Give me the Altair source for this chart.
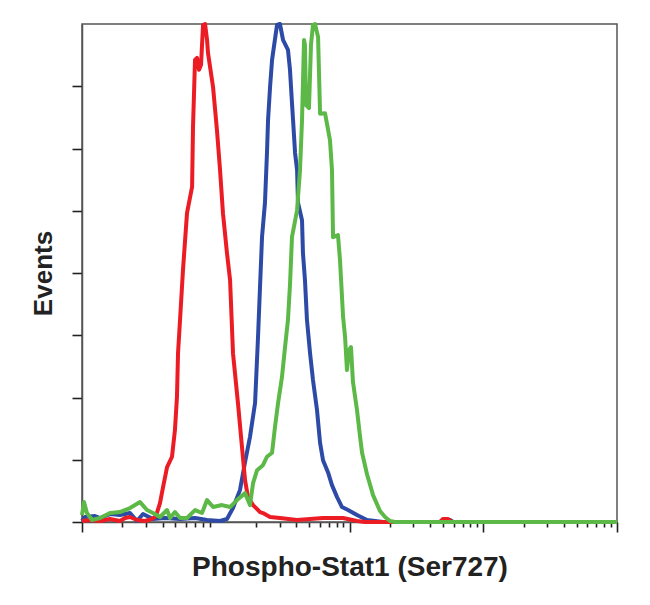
import altair as alt
import pandas as pd

# x values are log10 of fluorescence intensity (decades), y values are % of max events
RED_LOG = [0, 0.06, 0.135, 0.209, 0.284, 0.322, 0.359, 0.411, 0.471, 0.523, 0.553, 0.583, 0.606, 0.636, 0.673,
           0.695, 0.710, 0.718, 0.733, 0.755, 0.785, 0.823, 0.830, 0.845, 0.860, 0.875, 0.890, 0.905, 0.920, 0.935,
           0.942, 0.980, 1.009, 1.032, 1.054, 1.084, 1.107, 1.129, 1.166, 1.196, 1.219, 1.241, 1.279, 1.331, 1.353,
           1.406, 1.480, 1.608, 1.705, 1.802, 1.952, 2.056, 2.116, 2.677, 2.699, 2.737, 2.767, 4.0]
RED_PCT = [0.2, 0.4, 0.2, 0.6, 0.2, 0.8, 1.0, 0.4, 0.2, 0.6, 1.2, 3.8, 7.0, 11.0, 13.1,
           18.5, 25.1, 33.9, 40.6, 50.6, 62.0, 67.3, 79.3, 92.8, 93.2, 90.8, 91.8, 99.8, 100, 96.8,
           94.2, 87.3, 78.7, 70.7, 62.0, 54.0, 48.6, 33.9, 23.9, 15.1, 8.4, 5.0, 3.4, 2.0, 1.8,
           1.0, 0.8, 0.4, 0.6, 0.8, 0.8, 0.2, 0, 0, 0.6, 0.6, 0, 0]

BLUE_LOG = [0, 0.022, 0.097, 0.135, 0.209, 0.284, 0.359, 0.411, 0.456, 0.531, 0.621, 0.733, 0.845, 0.935, 1.032,
            1.084, 1.129, 1.181, 1.219, 1.256, 1.294, 1.316, 1.331, 1.346, 1.368, 1.383, 1.391, 1.406, 1.421, 1.458,
            1.480, 1.503, 1.540, 1.555, 1.570, 1.578, 1.593, 1.608, 1.615, 1.645, 1.652, 1.667, 1.682, 1.705, 1.727,
            1.757, 1.780, 1.802, 1.839, 1.869, 1.907, 1.944, 1.989, 2.056, 2.131, 2.251, 2.677, 2.707, 2.752, 2.774, 4.0]
BLUE_PCT = [0.2, 1.0, 1.2, 0.8, 1.6, 1.4, 1.8, 0.2, 1.6, 0.6, 0.8, 0.6, 0.8, 0.4, 0.2,
            0.6, 2.8, 6.4, 12.0, 17.1, 23.9, 37.1, 47.2, 57.2, 64.1, 74.1, 80.7, 87.3, 92.8, 99.8,
            100, 96.8, 94.8, 90.8, 84.1, 80.7, 74.1, 70.7, 64.1, 60.6, 54.0, 48.6, 40.6, 33.9, 28.5,
            22.5, 15.9, 12.4, 10.0, 7.4, 5.0, 3.0, 2.4, 1.4, 0.4, 0, 0, 0.6, 0.4, 0, 0]

GREEN_LOG = [0, 0.015, 0.037, 0.075, 0.135, 0.209, 0.284, 0.359, 0.434, 0.486, 0.531, 0.583, 0.636, 0.658, 0.695,
             0.733, 0.785, 0.845, 0.897, 0.935, 0.980, 1.047, 1.107, 1.159, 1.219, 1.256, 1.279, 1.309, 1.353, 1.383,
             1.421, 1.443, 1.466, 1.495, 1.518, 1.540, 1.555, 1.570, 1.608, 1.630, 1.645, 1.660, 1.667, 1.675, 1.697,
             1.712, 1.727, 1.742, 1.765, 1.780, 1.817, 1.854, 1.869, 1.877, 1.914, 1.929, 1.952, 1.967, 1.981, 1.996,
             2.011, 2.026, 2.056, 2.079, 2.094, 2.131, 2.176, 2.228, 2.266, 2.303, 2.340, 4.0]
GREEN_PCT = [1.4, 4.0, 1.8, 0.4, 0.8, 1.8, 2.0, 2.8, 4.0, 2.4, 1.8, 1.0, 2.4, 0.8, 2.0,
             0.8, 0.8, 2.4, 1.8, 4.4, 3.0, 3.4, 3.0, 4.4, 5.8, 3.4, 7.8, 10.4, 11.4, 13.1,
             13.9, 19.1, 23.9, 29.1, 35.1, 40.6, 47.6, 57.2, 62.6, 70.7, 80.7, 96.8, 95.8, 83.7, 83.1,
             95.8, 99.8, 100, 97.4, 82.0, 82.1, 76.7, 70.7, 57.2, 57.6, 52.6, 41.2, 37.1, 30.5, 34.5,
             35.1, 28.1, 22.5, 17.1, 13.9, 9.6, 5.4, 2.2, 1.0, 0.2, 0, 0]

SERIES = [("blue", BLUE_LOG, BLUE_PCT, "#2D4BA6"),
          ("red", RED_LOG, RED_PCT, "#EC1C24"),
          ("green", GREEN_LOG, GREEN_PCT, "#5CB947")]

X_TICKS = [1, 2, 3, 4, 5, 6, 7, 8, 9,
           20, 30, 40, 50, 60, 70, 80, 90,
           100, 200, 300, 400, 500, 600, 700, 800, 900,
           1000, 2000, 3000, 4000, 5000, 6000, 7000, 8000, 9000, 10000]
Y_TICKS = [0, 12.5, 25, 37.5, 50, 62.5, 75, 87.5]

TITLE_FONT = "Liberation Sans, Arial, sans-serif"

x_enc = alt.X(
    "intensity:Q",
    scale=alt.Scale(type="log", domain=[1, 10000], nice=False),
    axis=alt.Axis(
        values=X_TICKS, labels=False, grid=False,
        tickSize={"condition": {"test": "datum.value == 1 || datum.value == 100 || datum.value == 1000 || datum.value == 10000", "value": 10}, "value": 5},
        tickWidth=1.6, tickColor="#222222",
        domainColor="#555555", domainWidth=1.5,
        title="Phospho-Stat1 (Ser727)", titleFont=TITLE_FONT, titleFontSize=28,
        titleFontWeight="bold", titleColor="#222222",
        titleY=53, titleBaseline="alphabetic",
    ),
)
y_enc = alt.Y(
    "pct:Q",
    scale=alt.Scale(domain=[0, 100], nice=False),
    axis=alt.Axis(
        values=Y_TICKS, labels=False, grid=False, tickSize=10,
        tickWidth=1.6, tickColor="#222222",
        domainColor="#555555", domainWidth=1.5,
        title="Events", titleFont=TITLE_FONT, titleFontSize=26,
        titleFontWeight="bold", titleColor="#222222",
        titleX=-31, titleY=249, titleAngle=270, titleAlign="center", titleBaseline="alphabetic",
    ),
)

layers = []
for name, lg, pct, col in SERIES:
    df = pd.DataFrame({"lg": lg, "pct": pct})
    layers.append(
        alt.Chart(df)
        .transform_calculate(intensity="pow(10, datum.lg)")
        .mark_line(color=col, strokeWidth=4, strokeJoin="round")
        .encode(x=x_enc, y=y_enc)
    )

chart = (
    alt.layer(*layers)
    .properties(
        width=535, height=498,
        padding={"left": 82, "top": 24, "right": 33, "bottom": 83},
        autosize=alt.AutoSizeParams(type="none"),
        background="white",
    )
    .configure_view(stroke="#555555", strokeWidth=1.5)
)

chart.save("out.html", embed_options={"renderer": "svg", "actions": False})
